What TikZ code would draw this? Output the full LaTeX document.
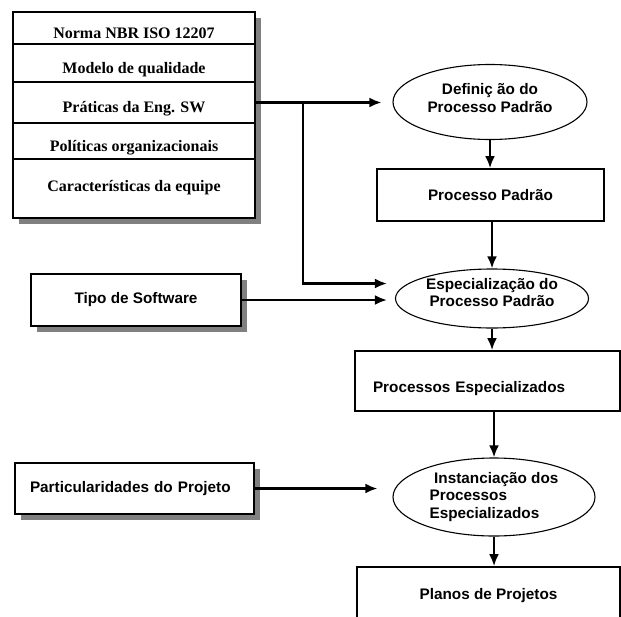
\documentclass[tikz,border=0pt]{standalone}
\usepackage{fontspec}
\setmainfont{Liberation Serif}
\setsansfont{Liberation Sans}
\usetikzlibrary{positioning, calc, arrows.meta, shapes.geometric, shadows}

\begin{document}
\begin{tikzpicture}[x = 1pt, y = -1pt]
\useasboundingbox (0, 0) rectangle (621, 616);
\clip (0, 0) rectangle (621, 616);
\begin{scope}[
	flow/.style={line width=2.4pt, -{Latex[length=12pt, width=10pt]}},
	shadowed/.style={drop shadow={shadow xshift=6pt, shadow yshift=-6pt, fill=black!50, opacity=1}},
	box/.style={draw, line width=1.6pt, fill=white, inner sep=0pt, font=\sffamily\bfseries\fontsize{15.3}{17.5}\selectfont},
	oval/.style={draw, ellipse, line width=1.1pt, inner sep=0pt, align=center, font=\sffamily\bfseries\fontsize{15.3}{17.5}\selectfont},
	row/.style={draw, line width=1.6pt, minimum width=242pt, inner sep=0pt, text depth=0pt, font=\rmfamily\bfseries\fontsize{16}{18}\selectfont}
]
\node[box, shadowed, minimum width=242pt, minimum height=206pt] (stack) at (134, 115) {};
\foreach \n/\y/\h/\th/\txt in {1/28/32/20/Norma NBR ISO 12207, 2/63/38/20/Modelo de qualidade, 3/102.5/41/20/Práticas da Eng. SW, 4/141/36/20/Políticas organizacionais, 5/188.5/59/5/Características da equipe} {
	\node[row, minimum height=\h pt, text height=\th pt] (row-\n) at (134, \y) {\txt};
}
\node[oval, minimum width=194pt, minimum height=75pt, text depth=8pt] (def) at (490, 102) {Definiç ão do\\Processo Padrão};
\node[box, minimum width=227pt, minimum height=52pt] (padrao) at (490.5, 195) {Processo Padrão};
\node[oval, minimum width=193pt, minimum height=59pt, text depth=12pt] (esp) at (492, 298.5) {Especialização do\\Processo Padrão};
\node[box, shadowed, minimum width=210pt, minimum height=52pt] (tipo) at (136, 300) {Tipo de Software};
\node[box, minimum width=265pt, minimum height=60pt, text width=229pt, align=left, text height=22pt, text depth=0pt] (espec) at (487.5, 381) {Processos Especializados};
\node[box, shadowed, minimum width=239pt, minimum height=51pt, text width=209pt, align=left] (part) at (134.5, 488.5) {Particularidades do Projeto};
\node[oval, minimum width=202pt, minimum height=78pt, align=left] (inst) at (494, 497) {\hspace{0.3em}Instanciação dos\\Processos\\Especializados};
\node[box, minimum width=263pt, minimum height=58pt] (planos) at (488.5, 596) {Planos de Projetos};

\coordinate (jn) at ($(row-3.east) + (47, 0)$);
\coordinate (esp-in) at ([yshift=15pt]esp.west);
\draw[flow, shorten >=11pt] (row-3.east) -- (row-3.east -| def.west);
\draw[flow, shorten >=8pt] (jn) |- (esp-in);
\draw[flow, shorten >=8pt] (tipo.east) -- (tipo.east -| esp.west);
\draw[flow, shorten >=15pt] (part.east) -- (part.east -| inst.west);
\draw[flow] (def.south) -- (def.south |- padrao.north);
\draw[flow] (padrao.south -| esp.north) -- (esp.north);
\draw[flow] (esp.south) -- (esp.south |- espec.north);
\draw[flow] (inst.north |- espec.south) -- (inst.north);
\draw[flow] (inst.south) -- (inst.south |- planos.north);
\end{scope}
\end{tikzpicture}
\end{document}
